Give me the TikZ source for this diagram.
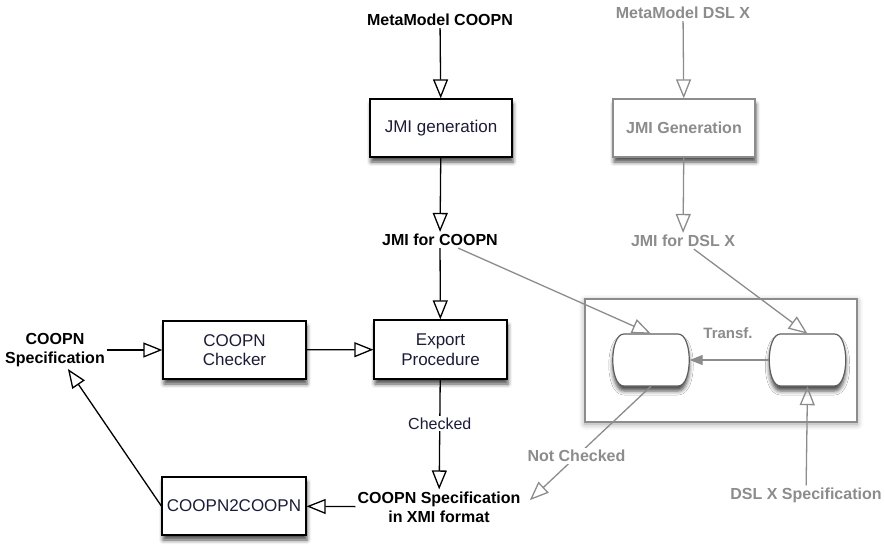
\documentclass[tikz,border=0pt]{standalone}
\usepackage{fontspec}
\setmainfont{Liberation Sans}
\usetikzlibrary{arrows.meta,shadows.blur}

\definecolor{dslgray}{RGB}{140,140,140}
\definecolor{boxtext}{RGB}{28,28,58}
\definecolor{capborder}{RGB}{95,95,95}

\begin{document}
\begin{tikzpicture}[x=1pt,y=-1pt,
  lbl/.style={font=\fontsize{16}{19}\selectfont\bfseries, align=center, inner sep=2pt},
  proc/.style={draw=black, line width=1.3pt, fill=white, align=center,
    minimum width=142pt, minimum height=58pt, text=boxtext,
    font=\fontsize{17}{19.5}\selectfont,
    blur shadow={shadow xshift=1pt, shadow yshift=-5pt, shadow blur radius=4pt, shadow opacity=70}},
  dslproc/.style={proc, draw=dslgray, text=dslgray, font=\fontsize{16}{19}\selectfont\bfseries},
  % invisible placeholder carrying the anchors of a capsule
  capsule/.style={rectangle, draw=none, minimum width=77pt, minimum height=52pt, inner sep=0pt},
  capline/.style={draw=capborder, line width=1.2pt, fill=white,
    blur shadow={shadow xshift=0pt, shadow yshift=-5pt, shadow blur radius=4pt, shadow opacity=70}},
  flow/.style={draw=black, line width=1.3pt,
    -{Triangle[open, length=19pt, width=15pt, line width=1.3pt]}},
  dslflow/.style={flow, draw=dslgray},
  onlabel/.style={fill=white, inner sep=2pt}
]
\useasboundingbox (0,0) rectangle (885,544);

% transformation frame
\node[draw=dslgray, line width=1.3pt, fill=white, minimum width=272pt, minimum height=123pt,
  blur shadow={shadow xshift=0pt, shadow yshift=-2pt, shadow blur radius=6pt, shadow opacity=40}]
  (frame) at (721,360.5) {};

% COOPN chain
\node[lbl] (mmc) at (440,20) {MetaModel COOPN};
\node[proc] (jmigen) at (441,128) {JMI generation};
\node[lbl] (jmic) at (440,240) {JMI for COOPN};
\node[proc, minimum width=133pt, minimum height=59pt] (export) at (440.5,349.5) {Export\\Procedure};
\node[proc, minimum width=143pt] (checker) at (234.5,350) {COOPN\\Checker};
\node[proc, minimum width=144pt] (c2c) at (234,506) {COOPN2COOPN};
\node[lbl] (spec) at (55,350) {COOPN\\Specification};
\node[lbl] (xmi) at (439,507) {COOPN Specification\\in XMI format};

% DSL X chain
\node[lbl, text=dslgray] (mmd) at (683,13) {MetaModel DSL X};
\node[dslproc] (jmigenx) at (684,128) {JMI Generation};
\node[lbl, text=dslgray] (jmid) at (683,241) {JMI for DSL X};
\node[capsule] (capL) at (651,360) {};
\node[capsule] (capR) at (807.5,360) {};
% capsule outlines: flat top and bottom, bulging sides
\foreach \c in {capL,capR}
  \path[capline, shift={(\c.center)}]
    (-27,-26) -- (27,-26) .. controls (42,-26) and (42,26) .. (27,26)
    -- (-27,26) .. controls (-42,26) and (-42,-26) .. (-27,-26) -- cycle;
\node[lbl, text=dslgray, font=\fontsize{15}{17}\selectfont\bfseries] (transf) at (728,333) {Transf.};
\node[lbl, text=dslgray] (dslspec) at (806,495) {DSL X Specification};

% connectors of the COOPN chain
\draw[flow] (mmc) -- (jmigen);
\draw[flow] (jmigen) -- (jmic);
\draw[flow] (jmic) -- (export);
\draw[flow] (spec) -- (checker);
\draw[flow] (checker) -- (export);
\draw[flow] (export) -- node[onlabel, font=\fontsize{16}{19}\selectfont, text=boxtext, pos=0.4] (checked) {Checked} (xmi);
\draw[flow] (xmi) -- (c2c);
\draw[flow] (c2c.west) -- (spec);

% connectors of the DSL X chain
\draw[dslflow] (mmd) -- (jmigenx);
\draw[dslflow] (jmigenx) -- (jmid);
\draw[dslflow] (jmic) -- (capL.north);
\draw[dslflow] (jmid) -- (capR.north);
\draw[dslflow] (dslspec) -- (capR.south);
\draw[draw=dslgray, line width=1.3pt, -{Triangle[length=13pt, width=10pt]}, color=dslgray] (capR) -- (capL);
\draw[dslflow, shorten >=10pt] (capL.south) -- node[onlabel, lbl, text=dslgray, pos=0.58] (notchk) {Not Checked} (xmi.east);
\end{tikzpicture}
\end{document}
